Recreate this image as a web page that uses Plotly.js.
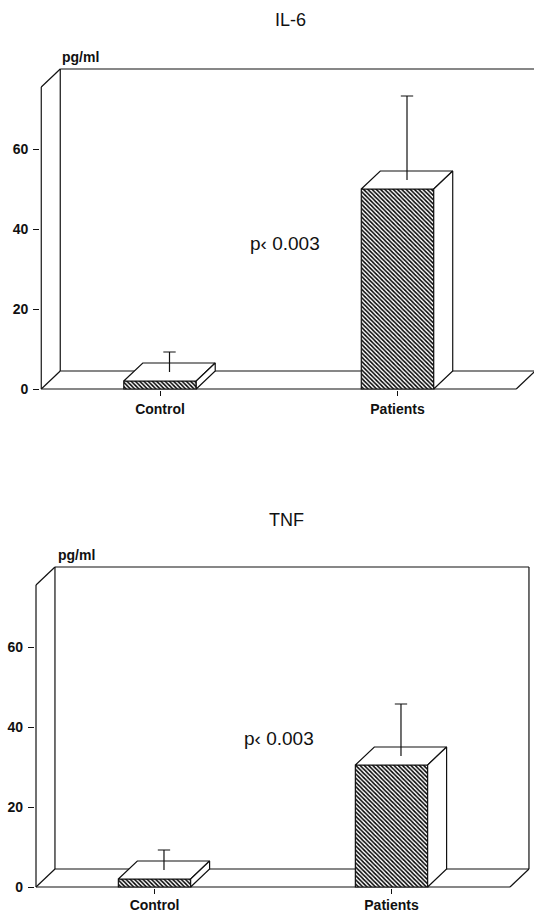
<!DOCTYPE html>
<html>
<head>
<meta charset="utf-8">
<script src="https://cdn.plot.ly/plotly-3.0.1.min.js"></script>
<style>html,body{margin:0;padding:0;background:#fff;}#chart{width:534px;height:912px;}</style>
</head>
<body>
<div id="chart"></div>
<script>
// ---- data ----
const categories = ['Control', 'Patients'];
const il6Mean = [2, 50];
const il6SD = [5, 21];
const tnfMean = [2, 30.5];
const tnfSD = [5, 13];
const yTickVals = [0, 20, 40, 60];
const panelTitles = ['IL-6', 'TNF'];
const unitLabel = 'pg/ml';
const pLabel = 'p\u2039 0.003';

// ---- style / geometry ----
const W = 534, H = 912;
const BAR_W = 0.305, DX = 0.08, DY = 4.5, FRAME_TOP = 75.5;
const CAP = 0.026;
const INK = '#111';
const LW = 1.2;
const tickFont = {family: 'Liberation Sans, Arial, sans-serif', size: 14, weight: 'bold', color: INK};

function panel(means, sds, xa, ya) {
  const traces = [];
  traces.push({
    type: 'bar', x: categories.map((c, i) => i), y: means, width: BAR_W,
    xaxis: xa, yaxis: ya, hoverinfo: 'skip',
    marker: {color: 'white', line: {color: INK, width: LW},
      pattern: {shape: '\\', fgcolor: '#000', bgcolor: '#fff', size: 3, solidity: 0.5}}
  });
  means.forEach((v, i) => {
    const L = i - BAR_W / 2, R = i + BAR_W / 2;
    traces.push({type: 'scatter', mode: 'lines', xaxis: xa, yaxis: ya, hoverinfo: 'skip',
      x: [L, R, R + DX, L + DX, L], y: [v, v, v + DY, v + DY, v],
      fill: 'toself', fillcolor: 'white', line: {color: INK, width: LW}});
    traces.push({type: 'scatter', mode: 'lines', xaxis: xa, yaxis: ya, hoverinfo: 'skip',
      x: [R, R + DX, R + DX, R, R], y: [0, DY, v + DY, v, 0],
      fill: 'toself', fillcolor: 'white', line: {color: INK, width: LW}});
    // error bar (upper only, from the middle of the top face)
    const xc = i + DX / 2, y0 = v + DY / 2, yTop = y0 + sds[i];
    traces.push({type: 'scatter', mode: 'lines', xaxis: xa, yaxis: ya, hoverinfo: 'skip',
      x: [xc, xc, null, xc - CAP, xc + CAP], y: [y0, yTop, null, yTop, yTop],
      line: {color: INK, width: LW}});
  });
  return traces;
}

function frameShapes(xa, ya) {
  const segs = [
    [-0.5, 0, -0.5, FRAME_TOP],
    [-0.5, FRAME_TOP, -0.5 + DX, FRAME_TOP + DY],
    [-0.5 + DX, FRAME_TOP + DY, 1.5 + DX, FRAME_TOP + DY],
    [-0.5 + DX, DY, -0.5 + DX, FRAME_TOP + DY],
    [1.5 + DX, DY, 1.5 + DX, FRAME_TOP + DY],
    [-0.5 + DX, DY, 1.5 + DX, DY],
    [-0.5, 0, 1.5, 0],
    [-0.5, 0, -0.5 + DX, DY],
    [1.5, 0, 1.5 + DX, DY]
  ];
  return segs.map(s => ({type: 'line', layer: 'below', xref: xa, yref: ya,
    x0: s[0], y0: s[1], x1: s[2], y1: s[3], line: {color: INK, width: LW}}));
}

// pixel placement helpers
function xAxisFor(zeroPx, ppu) {
  const xMin = -0.505;
  const left = zeroPx + xMin * ppu;
  return {domain: [left / W, 1], range: [xMin, (W - zeroPx) / ppu]};
}
function yAxisFor(zeroPx, ppu) {
  const yMin = -0.3, yMax = 82;
  const bottom = zeroPx - yMin * ppu, top = zeroPx - yMax * ppu;
  return {domain: [(H - bottom) / H, (H - top) / H], range: [yMin, yMax]};
}

const xCommon = {tickvals: [0, 1], ticktext: categories, ticks: 'outside', ticklen: 5,
  tickwidth: 1, tickcolor: INK, showgrid: false, zeroline: false, showline: false,
  tickfont: tickFont, fixedrange: true};
const yCommon = {tickvals: yTickVals, ticks: 'outside', ticklen: 6, tickwidth: 1,
  tickcolor: INK, showgrid: false, zeroline: false, showline: false,
  tickfont: tickFont, ticklabelstandoff: 2, fixedrange: true};

const x1 = xAxisFor(160, 237.5), y1 = yAxisFor(389, 4);
const x2 = xAxisFor(154.5, 237), y2 = yAxisFor(887, 4);

const data = [].concat(panel(il6Mean, il6SD, 'x', 'y'), panel(tnfMean, tnfSD, 'x2', 'y2'));

function ann(text, px, py, font) {
  return {text: text, xref: 'paper', yref: 'paper', x: px / W, y: 1 - py / H,
    xanchor: 'center', yanchor: 'middle', showarrow: false, font: font};
}
const titleFont = {family: 'Liberation Sans, Arial, sans-serif', size: 18, color: INK};
const pFont = {family: 'Liberation Sans, Arial, sans-serif', size: 19, color: INK};
const unitFont = {family: 'Liberation Sans, Arial, sans-serif', size: 14, weight: 'bold', color: INK};

const layout = {
  width: W, height: H, margin: {l: 0, r: 0, t: 0, b: 0},
  paper_bgcolor: 'white', plot_bgcolor: 'white', showlegend: false, barmode: 'overlay',
  xaxis: Object.assign({}, xCommon, x1, {anchor: 'y', ticklabelstandoff: 1}),
  yaxis: Object.assign({}, yCommon, y1, {anchor: 'x'}),
  xaxis2: Object.assign({}, xCommon, x2, {anchor: 'y2', ticklabelstandoff: -1}),
  yaxis2: Object.assign({}, yCommon, y2, {anchor: 'x2'}),
  shapes: frameShapes('x', 'y').concat(frameShapes('x2', 'y2')),
  annotations: [
    ann(panelTitles[0], 290, 20, titleFont),
    ann(panelTitles[1], 286, 520, titleFont),
    ann(unitLabel, 80, 57, unitFont),
    ann(unitLabel, 76, 555, unitFont),
    ann(pLabel, 285, 243, pFont),
    ann(pLabel, 279, 738, pFont)
  ]
};

Plotly.newPlot('chart', data, layout, {displayModeBar: false, staticPlot: true});
</script>
</body>
</html>
